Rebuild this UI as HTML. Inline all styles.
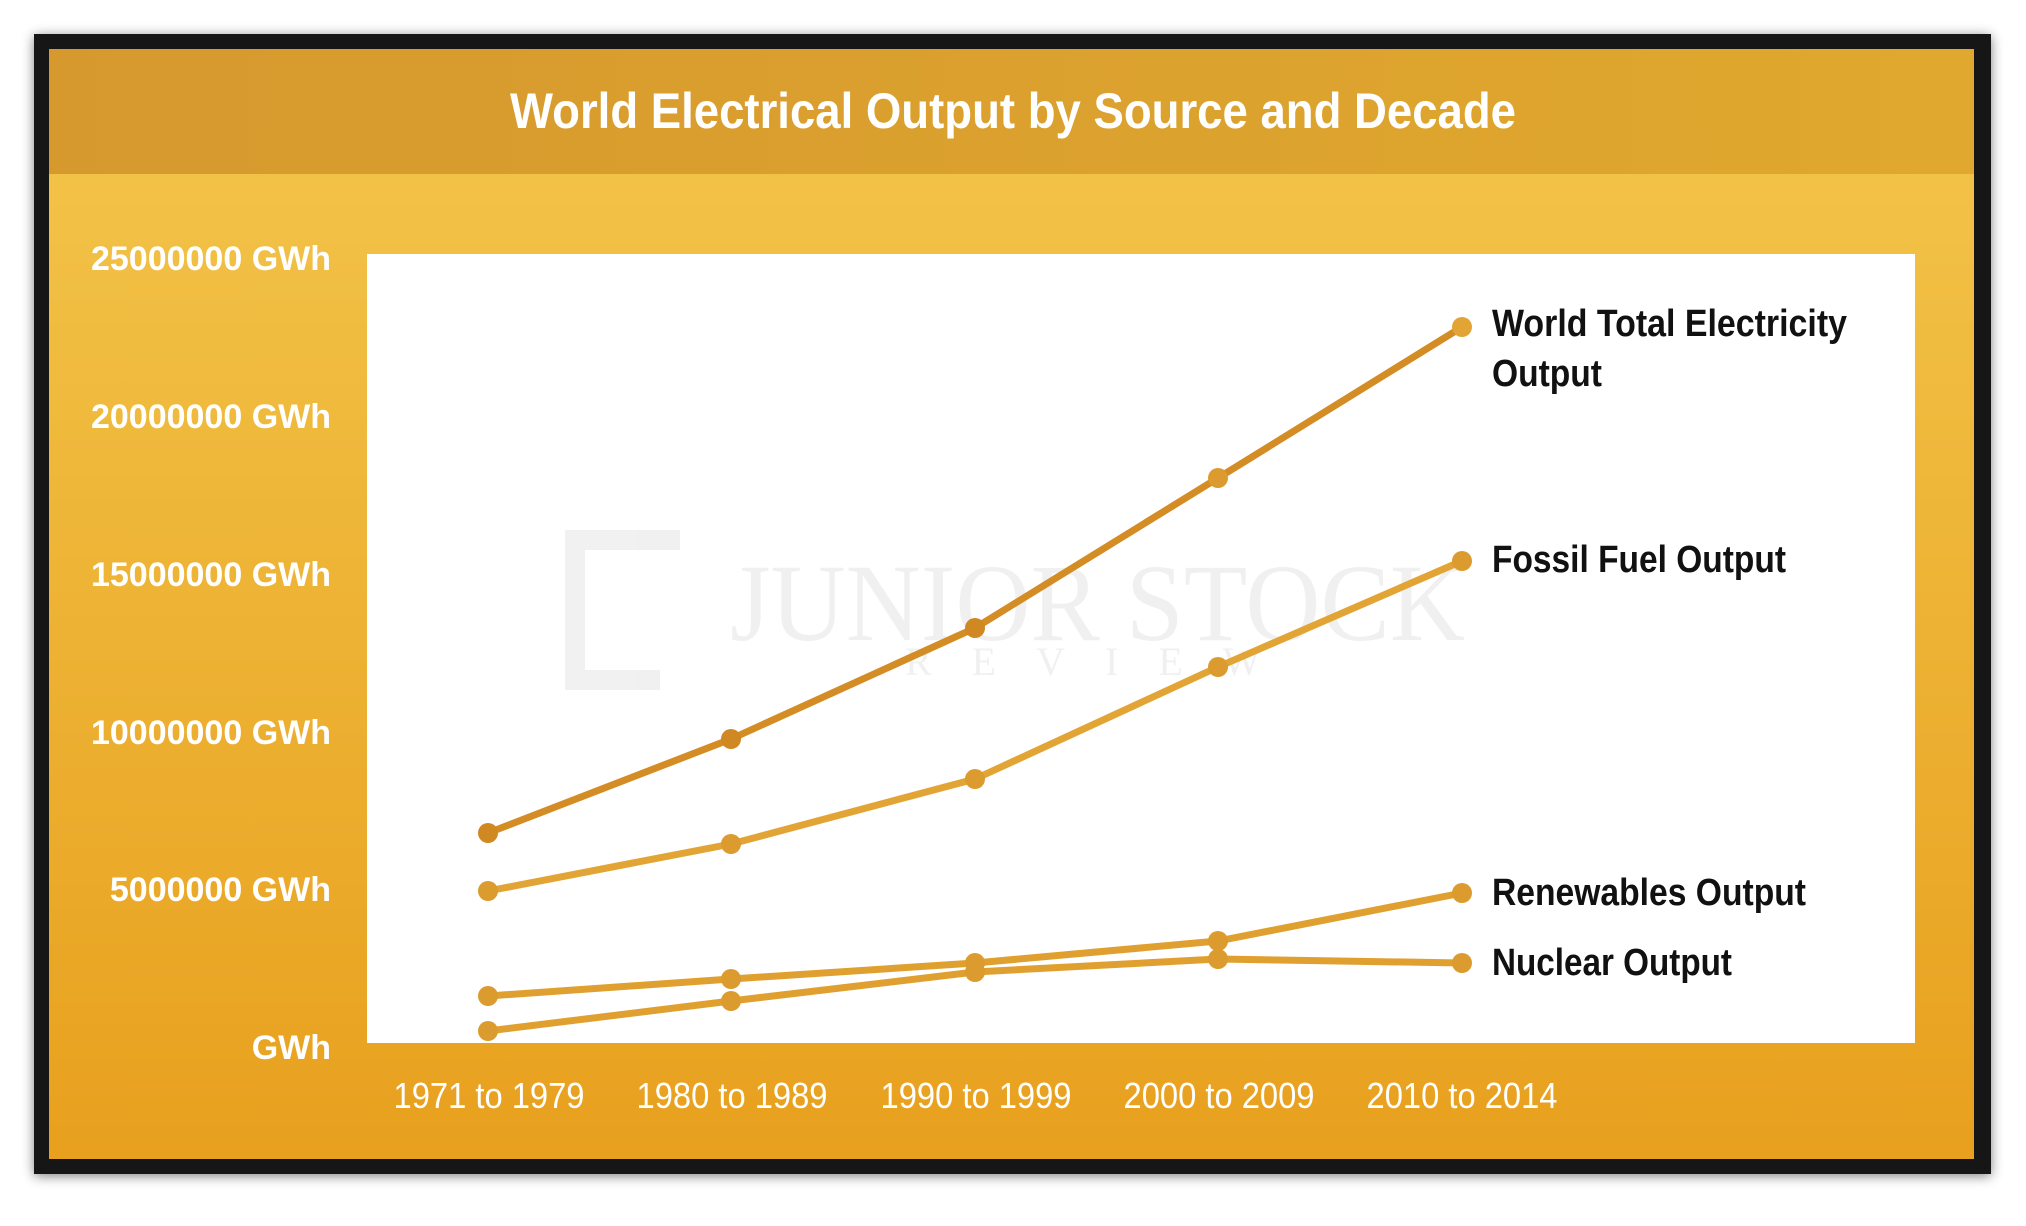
<!DOCTYPE html>
<html><head><meta charset="utf-8"><style>
html,body{margin:0;padding:0;background:#fff;}
body{width:2026px;height:1221px;overflow:hidden;}
</style></head><body>
<svg width="2026" height="1221" viewBox="0 0 2026 1221" xmlns="http://www.w3.org/2000/svg">
<defs>
<linearGradient id="bg" x1="0" y1="0" x2="0" y2="1">
<stop offset="0" stop-color="#f3c64c"/><stop offset="1" stop-color="#e8a01e"/>
</linearGradient>
<linearGradient id="hd" x1="0" y1="0" x2="1" y2="0">
<stop offset="0" stop-color="#d6992e"/><stop offset="1" stop-color="#e0a82e"/>
</linearGradient>
<filter id="sh" x="-5%" y="-5%" width="110%" height="110%"><feGaussianBlur stdDeviation="6"/></filter>
</defs>
<rect x="34" y="36" width="1957" height="1140" fill="#000" opacity="0.5" filter="url(#sh)"/>
<rect x="34" y="34" width="1957" height="1140" fill="#161616"/>
<rect x="49" y="49" width="1925" height="1110" fill="url(#bg)"/>
<rect x="49" y="49" width="1925" height="125" fill="url(#hd)"/>
<text x="1013" y="128" text-anchor="middle" fill="#fff" font-family="Liberation Sans Narrow, Liberation Sans, sans-serif" font-weight="bold" font-size="50" textLength="1006" lengthAdjust="spacingAndGlyphs">World Electrical Output by Source and Decade</text>
<rect x="367" y="254" width="1548" height="789" fill="#fff"/>
<g opacity="0.1" font-family="Liberation Serif, serif" fill="#777">
<text x="730" y="640" font-size="110" textLength="735" lengthAdjust="spacingAndGlyphs">JUNIOR STOCK</text>
<text x="905" y="675" font-size="40" letter-spacing="40">REVIEW</text>
<path d="M680,540 L575,540 L575,680 L660,680" fill="none" stroke="#777" stroke-width="20"/>
</g>
<g font-family="Liberation Sans Narrow, Liberation Sans, sans-serif" font-weight="bold" font-size="34" fill="#fff" text-anchor="end">
<text x="331" y="270">25000000 GWh</text>
<text x="331" y="428">20000000 GWh</text>
<text x="331" y="586">15000000 GWh</text>
<text x="331" y="744">10000000 GWh</text>
<text x="331" y="901">5000000 GWh</text>
<text x="331" y="1059">GWh</text>
</g>
<g font-family="Liberation Sans Narrow, Liberation Sans, sans-serif" font-size="36" fill="#fff" text-anchor="middle" lengthAdjust="spacingAndGlyphs">
<text x="489" y="1108" textLength="191" lengthAdjust="spacingAndGlyphs">1971 to 1979</text>
<text x="732" y="1108" textLength="191" lengthAdjust="spacingAndGlyphs">1980 to 1989</text>
<text x="976" y="1108" textLength="191" lengthAdjust="spacingAndGlyphs">1990 to 1999</text>
<text x="1219" y="1108" textLength="191" lengthAdjust="spacingAndGlyphs">2000 to 2009</text>
<text x="1462" y="1108" textLength="191" lengthAdjust="spacingAndGlyphs">2010 to 2014</text>
</g>
<g fill="none" stroke-width="7" stroke-linejoin="round">
<polyline points="488,1031 731,1001 975,972 1218,959 1462,963" stroke="#e0a030"/>
<polyline points="488,996 731,979 975,963 1218,941 1462,893" stroke="#e0a030"/>
<polyline points="488,891 731,844 975,779 1218,667 1462,561" stroke="#e2a535"/>
<polyline points="488,833 731,739 975,628 1218,478 1462,327" stroke="#d48c24"/>
</g>
<g fill="#dc9b2e">
<circle cx="488" cy="1031" r="10"/><circle cx="731" cy="1001" r="10"/><circle cx="975" cy="972" r="10"/><circle cx="1218" cy="959" r="10"/><circle cx="1462" cy="963" r="10"/>
<circle cx="488" cy="996" r="10"/><circle cx="731" cy="979" r="10"/><circle cx="975" cy="963" r="10"/><circle cx="1218" cy="941" r="10"/><circle cx="1462" cy="893" r="10"/>
<circle cx="488" cy="891" r="10"/><circle cx="731" cy="844" r="10"/><circle cx="975" cy="779" r="10"/><circle cx="1218" cy="667" r="10"/><circle cx="1462" cy="561" r="10"/>
<circle cx="488" cy="833" r="10" fill="#d08822"/><circle cx="731" cy="739" r="10" fill="#d08822"/><circle cx="975" cy="628" r="10" fill="#d08822"/><circle cx="1218" cy="478" r="10"/><circle cx="1462" cy="327" r="10" fill="#e2a535"/>
</g>
<g font-family="Liberation Sans Narrow, Liberation Sans, sans-serif" font-weight="bold" font-size="38" fill="#111">
<text x="1492" y="336" textLength="355" lengthAdjust="spacingAndGlyphs">World Total Electricity</text>
<text x="1492" y="386" textLength="110" lengthAdjust="spacingAndGlyphs">Output</text>
<text x="1492" y="572" textLength="294" lengthAdjust="spacingAndGlyphs">Fossil Fuel Output</text>
<text x="1492" y="905" textLength="314" lengthAdjust="spacingAndGlyphs">Renewables Output</text>
<text x="1492" y="975" textLength="240" lengthAdjust="spacingAndGlyphs">Nuclear Output</text>
</g>
</svg>
</body></html>
